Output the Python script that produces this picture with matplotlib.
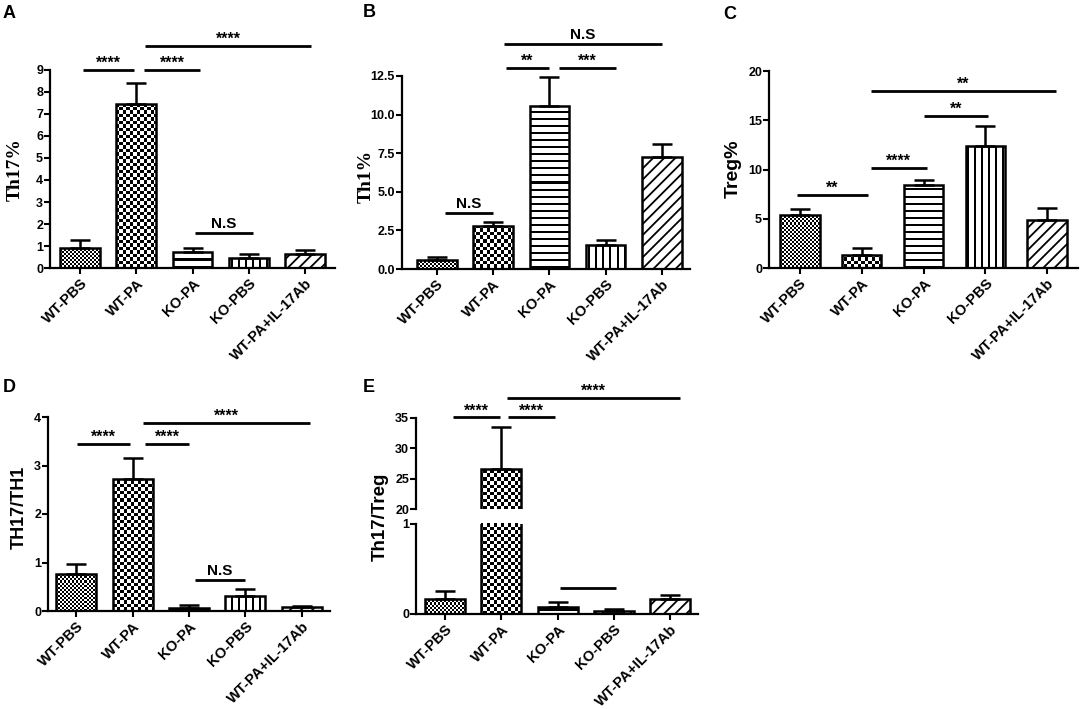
import numpy as np
import matplotlib
matplotlib.use('Agg')
import matplotlib.pyplot as plt
from matplotlib.colors import ListedColormap
from matplotlib.ticker import FormatStrFormatter

plt.rcParams['font.family'] = ['Liberation Sans', 'DejaVu Sans']
plt.rcParams['font.weight'] = 'bold'
plt.rcParams['hatch.linewidth'] = 1.3

# ---------------- data ----------------
groups = ['WT-PBS', 'WT-PA', 'KO-PA', 'KO-PBS', 'WT-PA+IL-17Ab']
patterns = ['checker_fine', 'checker', 'hlines', 'vlines', 'diag']

th17_mean = [0.93, 7.44, 0.73, 0.47, 0.65]
th17_sem = [0.33, 0.97, 0.20, 0.15, 0.15]

th1_mean = [0.56, 2.80, 10.56, 1.53, 7.28]
th1_sem = [0.19, 0.24, 1.90, 0.37, 0.82]

treg_mean = [5.42, 1.29, 8.47, 12.41, 4.92]
treg_sem = [0.55, 0.78, 0.45, 2.00, 1.22]

th17_th1_mean = [0.77, 2.73, 0.07, 0.31, 0.08]
th17_th1_sem = [0.19, 0.42, 0.05, 0.14, 0.02]

th17_treg_mean = [0.17, 26.65, 0.08, 0.033, 0.17]
th17_treg_sem = [0.085, 6.81, 0.057, 0.022, 0.037]

# significance brackets: (x_start, x_end, y, label)
sig_A = [(0.05, 0.95, 9.0, '****'), (1.13, 2.14, 9.0, '****'),
         (1.16, 4.11, 10.09, '****'), (2.04, 3.07, 1.59, 'N.S')]
sig_B = [(0.14, 1.0, 3.63, 'N.S'), (1.23, 1.99, 13.0, '**'),
         (2.17, 3.18, 13.0, '***'), (1.19, 4.0, 14.6, 'N.S')]
sig_C = [(-0.05, 1.1, 7.4, '**'), (1.15, 2.05, 10.15, '****'),
         (2.0, 3.05, 15.4, '**'), (1.15, 4.15, 18.0, '**')]
sig_D = [(0.02, 0.96, 3.44, '****'), (1.22, 2.0, 3.44, '****'),
         (1.19, 4.14, 3.87, '****'), (2.1, 2.99, 0.64, 'N.S')]
sig_E_upper = [(0.14, 0.98, 35.1, '****'), (1.12, 1.96, 35.1, '****'),
               (1.1, 4.18, 38.3, '****')]
sig_E_lower = [(2.04, 3.04, 0.29, '')]

# ---------------- figure ----------------
W, H = 1084, 709
fig = plt.figure(figsize=(W / 100, H / 100), dpi=100)
cmap_bw = ListedColormap(['white', 'black'])


def rect(l, t, r, b):
    return [l / W, 1 - b / H, (r - l) / W, (b - t) / H]


def pattern_fill(ax, patch, kind):
    bb = patch.get_window_extent()
    ab = ax.bbox
    x0, x1 = max(bb.x0, ab.x0), min(bb.x1, ab.x1)
    y0, y1 = max(bb.y0, ab.y0), min(bb.y1, ab.y1)
    if x1 <= x0 or y1 <= y0:
        return
    px0, px1 = int(np.floor(x0)), int(np.ceil(x1))
    py0, py1 = int(np.floor(y0)), int(np.ceil(y1))
    X, Y = np.meshgrid(np.arange(px0, px1), np.arange(py0, py1))
    if kind == 'checker_fine':
        arr = (X // 2 + Y // 2) % 2
    elif kind == 'checker':
        arr = ((2 * X) // 7 + (2 * Y) // 7) % 2
    elif kind == 'hlines':
        arr = (Y % 7 < 2)
    else:
        arr = (X % 7 < 2)
    inv = ax.transData.inverted()
    (dx0, dy0), (dx1, dy1) = inv.transform([(px0, py0), (px1, py1)])
    im = ax.imshow(arr.astype(float), extent=(dx0, dx1, dy0, dy1), origin='lower',
                   cmap=cmap_bw, vmin=0, vmax=1, interpolation='nearest',
                   aspect='auto', zorder=1.5)
    im.set_clip_path(patch)


def style_axes(ax, xlabels=True):
    for s in ['top', 'right']:
        ax.spines[s].set_visible(False)
    for s in ['left', 'bottom']:
        ax.spines[s].set_linewidth(1.6)
    ax.tick_params(axis='both', direction='out', length=4, width=1.5,
                   labelsize=9, pad=1)
    ax.tick_params(axis='x', pad=2)
    ax.set_xticks(np.arange(len(groups)))
    if xlabels:
        ax.set_xticklabels(groups, rotation=45, ha='right', rotation_mode='anchor',
                           fontsize=10.5, fontweight='bold')
    for lab in ax.get_yticklabels():
        lab.set_fontweight('bold')


def draw_bars(ax, means, sems, xlim, ylim, width):
    ax.set_xlim(xlim)
    ax.set_ylim(ylim)
    x = np.arange(len(groups))
    bars = ax.bar(x, means, width, facecolor='none', edgecolor='black',
                  linewidth=1.8, zorder=2)
    for b, p in zip(bars, patterns):
        if p == 'diag':
            b.set_facecolor('white')
            b.set_hatch('///')
        else:
            pattern_fill(ax, b, p)
    ax.errorbar(x, means, yerr=[np.zeros(len(means)), sems], fmt='none',
                ecolor='black', elinewidth=1.8, capsize=7, capthick=1.8, zorder=3)
    ax.set_xlim(xlim)
    ax.set_ylim(ylim)


def draw_sig(ax, sigs):
    for x1, x2, y, lab in sigs:
        ax.plot([x1, x2], [y, y], color='black', lw=2.0, clip_on=False,
                solid_capstyle='butt', zorder=4)
        if lab:
            star = '*' in lab
            ax.annotate(lab, xy=((x1 + x2) / 2, y), xytext=(0, 1.5 if star else 3.5),
                        textcoords='offset points', ha='center', va='baseline',
                        fontsize=11.5 if star else 11, fontweight='bold',
                        annotation_clip=False)


# Panel A
axA = fig.add_axes(rect(50, 70, 335, 268))
draw_bars(axA, th17_mean, th17_sem, (-0.54, 4.54), (0, 9), 0.71)
axA.set_yticks(range(0, 10))
style_axes(axA)
draw_sig(axA, sig_A)

# Panel B
axB = fig.add_axes(rect(402, 76, 690, 269))
draw_bars(axB, th1_mean, th1_sem, (-0.62, 4.5), (0, 12.5), 0.70)
axB.set_yticks([0, 2.5, 5.0, 7.5, 10.0, 12.5])
axB.yaxis.set_major_formatter(FormatStrFormatter('%.1f'))
style_axes(axB)
draw_sig(axB, sig_B)

# Panel C
axC = fig.add_axes(rect(769, 71, 1078, 268))
draw_bars(axC, treg_mean, treg_sem, (-0.5, 4.5), (0, 20), 0.64)
axC.set_yticks([0, 5, 10, 15, 20])
style_axes(axC)
draw_sig(axC, sig_C)

# Panel D
axD = fig.add_axes(rect(48, 417, 330, 611))
draw_bars(axD, th17_th1_mean, th17_th1_sem, (-0.5, 4.5), (0, 4), 0.71)
axD.set_yticks([0, 1, 2, 3, 4])
style_axes(axD)
draw_sig(axD, sig_D)

# Panel E (broken axis)
axEu = fig.add_axes(rect(416, 418, 698, 509))
axEl = fig.add_axes(rect(416, 524, 698, 614))
draw_bars(axEu, th17_treg_mean, th17_treg_sem, (-0.52, 4.5), (20, 35), 0.71)
draw_bars(axEl, th17_treg_mean, th17_treg_sem, (-0.52, 4.5), (0, 1), 0.71)
axEu.set_yticks([20, 25, 30, 35])
axEl.set_yticks([0, 1])
style_axes(axEu, xlabels=False)
axEu.spines['bottom'].set_visible(False)
axEu.tick_params(axis='x', bottom=False, labelbottom=False)
style_axes(axEl)
draw_sig(axEu, sig_E_upper)
draw_sig(axEl, sig_E_lower)

# y labels
def ylab(px, py, text, size, serif=False):
    fam = ['Liberation Serif', 'DejaVu Serif'] if serif else ['Liberation Sans', 'DejaVu Sans']
    fig.text(px / W, 1 - py / H, text, rotation=90, ha='center', va='center',
             fontsize=size, fontweight='bold', family=fam)

ylab(15, 170, 'Th17%', 14, serif=True)
ylab(366, 176, 'Th1%', 14, serif=True)
ylab(733, 169, 'Treg%', 14)
ylab(19, 507, 'TH17/TH1', 13)
ylab(380, 517, 'Th17/Treg', 13.5)

# panel letters
for lx, ly, letter in [(3, 5, 'A'), (363, 4, 'B'), (723, 6, 'C'), (3, 379, 'D'), (363, 379, 'E')]:
    fig.text(lx / W, 1 - ly / H, letter, fontsize=13, fontweight='bold',
             ha='left', va='top')

fig.savefig('out.png', dpi=100)
